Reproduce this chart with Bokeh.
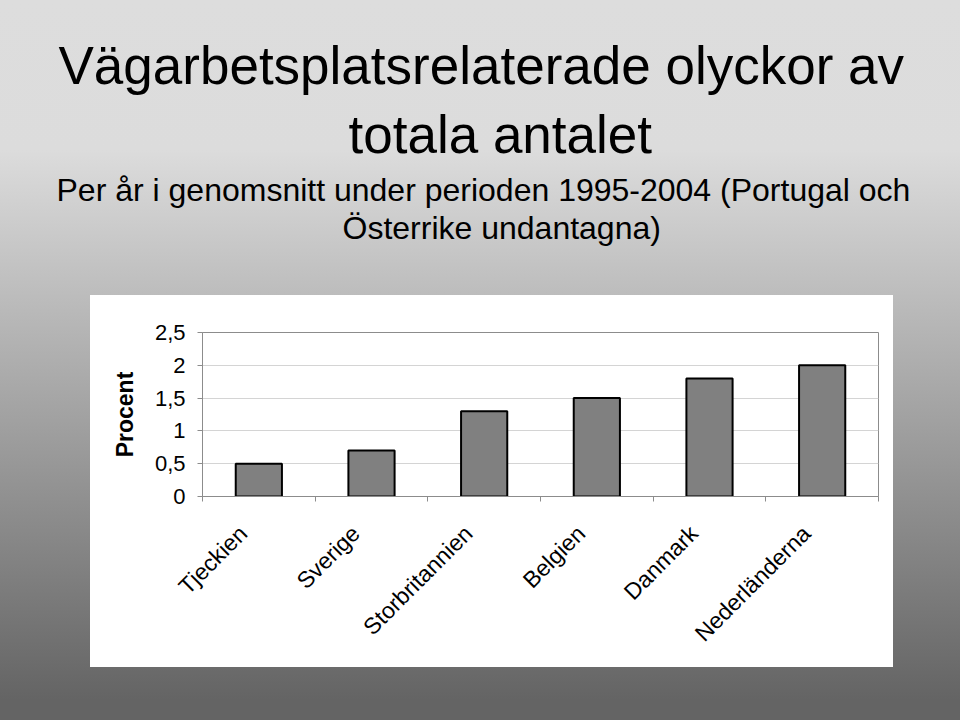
import numpy as np
from bokeh.plotting import figure
from bokeh.models import Range1d, FixedTicker, Title
from bokeh.embed import file_html
from bokeh.resources import INLINE
import math

# ---- data ----
countries = ["Tjeckien", "Sverige", "Storbritannien", "Belgien", "Danmark", "Nederländerna"]
percent = [0.5, 0.7, 1.3, 1.5, 1.8, 2.0]
y_ticks = [0, 0.5, 1, 1.5, 2, 2.5]
y_tick_labels = ["0", "0,5", "1", "1,5", "2", "2,5"]
title_lines = ["Vägarbetsplatsrelaterade olyckor av", "totala antalet"]
subtitle_lines = ["Per år i genomsnitt under perioden 1995-2004 (Portugal och", "Österrike undantagna)"]
y_label = "Procent"

FONT = "Liberation Sans"
W, H = 960, 720
FL, FR, FT, FB = 202, 878, 332, 496   # frame edges in page pixels

n = len(countries)
x_pos = list(np.arange(n) + 0.5)

bg = ("linear-gradient(#ffffff, #ffffff) 90px 295px / 803px 372px no-repeat, "
      "linear-gradient(to bottom, #dddddd 0px, #dcdcdc 150px, #646464 700px, #646464 720px)")

p = figure(width=W, height=H, x_range=Range1d(0, n), y_range=Range1d(0, 2.5),
           output_backend="svg", toolbar_location=None,
           min_border_left=FL, min_border_right=W - FR, min_border_top=FT, min_border_bottom=H - FB,
           background_fill_color="white", border_fill_alpha=0,
           outline_line_color="#8c8c8c", outline_line_width=1,
           styles={"background": bg})

p.vbar(x=x_pos, top=percent, width=0.41, fill_color="#808080",
       line_color="#000000", line_width=2)

# titles: stacked above the frame, nearest first; left edge given as offset from frame left
p.add_layout(Title(text=" ", text_font=FONT, text_font_size="1px", standoff=84), "above")  # gap
head = [
    (subtitle_lines[1], "32px", 342 - FL, 0),
    (subtitle_lines[0], "32px", 56 - FL, 0),
    (title_lines[1], "53px", 348 - FL, 12),
    (title_lines[0], "53px", 58 - FL, 3),
]
for txt, fs, off, so in head:
    p.add_layout(Title(text=txt, text_font=FONT, text_font_size=fs, text_font_style="normal",
                       text_color="#000000", align="left", offset=off, standoff=so), "above")

# x axis: labels slightly left of the bar centres, ticks at category boundaries
label_shift = 0.14
label_ticks = [x - label_shift for x in x_pos]
xa = p.xaxis[0]
xa.ticker = FixedTicker(ticks=label_ticks, minor_ticks=list(range(n + 1)))
xa.major_label_overrides = {float(x): c for x, c in zip(label_ticks, countries)}
xa.major_tick_line_color = None
xa.minor_tick_out = 5
xa.minor_tick_in = 0
xa.minor_tick_line_color = "#8c8c8c"
xa.axis_line_color = "#8c8c8c"
xa.major_label_orientation = math.pi / 4
xa.major_label_standoff = 27
xa.major_label_text_font = FONT
xa.major_label_text_font_size = "23px"
xa.major_label_text_color = "#000000"

# y axis
ya = p.yaxis[0]
ya.ticker = FixedTicker(ticks=y_ticks, minor_ticks=[])
ya.major_label_overrides = {float(t): l for t, l in zip(y_ticks, y_tick_labels)}
ya.major_tick_out = 5
ya.major_tick_in = 0
ya.major_tick_line_color = "#8c8c8c"
ya.axis_line_color = "#8c8c8c"
ya.major_label_standoff = 12
ya.major_label_text_font = FONT
ya.major_label_text_font_size = "22px"
ya.major_label_text_color = "#000000"
ya.axis_label = y_label
ya.axis_label_text_font = FONT
ya.axis_label_text_font_size = "23px"
ya.axis_label_text_font_style = "bold"
ya.axis_label_text_color = "#000000"
ya.axis_label_standoff = 14

p.xgrid.visible = False
p.ygrid.ticker = FixedTicker(ticks=y_ticks)
p.ygrid.grid_line_color = "#d4d4d4"
p.ygrid.grid_line_width = 1

open("out.html", "w").write(file_html(p, INLINE))
